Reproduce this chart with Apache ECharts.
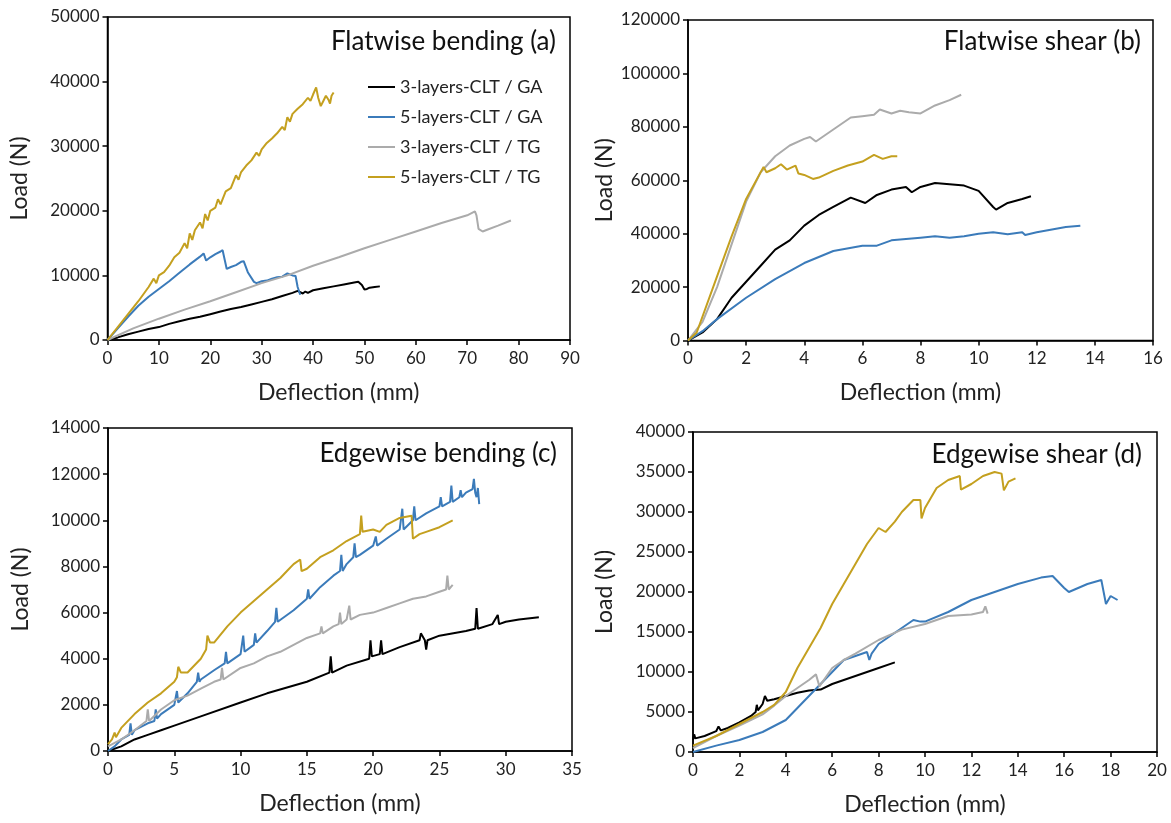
<!DOCTYPE html>
<html>
<head>
<meta charset="utf-8">
<script src="https://cdn.jsdelivr.net/npm/echarts@6/dist/echarts.min.js"></script>
<style>html,body{margin:0;padding:0;background:#fff}#c{width:1171px;height:823px}</style>
</head>
<body>
<div id="c"></div>
<script>
const seriesNames = ['3-layers-CLT / GA', '5-layers-CLT / GA', '3-layers-CLT / TG', '5-layers-CLT / TG'];
const panelTitles = ['Flatwise bending (a)', 'Flatwise shear (b)', 'Edgewise bending (c)', 'Edgewise shear (d)'];
const xMax = [90, 16, 35, 20];
const xStep = [10, 2, 5, 2];
const yMax = [50000, 120000, 14000, 40000];
const yStep = [10000, 20000, 2000, 5000];

// Panel (a) Flatwise bending
const a_GA3 = [[0,0],[2,400],[4,900],[6,1300],[8,1700],[10,2000],[12,2500],[14,2900],[16,3300],[18,3600],[20,4000],[22,4400],[24,4800],[26,5100],[28,5500],[30,5900],[32,6300],[34,6800],[36,7300],[37,7600],[38,7200],[38.5,7500],[39,7300],[40,7700],[42,8000],[44,8300],[46,8600],[48,8900],[48.8,9000],[49.5,8500],[50,7800],[50.5,7900],[51,8100],[52,8200],[53,8300]];
const a_GA5 = [[0,0],[2,1800],[4,3600],[6,5300],[8,6700],[10,7900],[12,9100],[14,10400],[16,11700],[18,12900],[18.7,13400],[19.2,12300],[20,12800],[21,13300],[22,13700],[22.4,13900],[23.2,11000],[24,11300],[25,11600],[26,12100],[26.5,12200],[27.3,10500],[28.5,9000],[29,8800],[30,9100],[31,9200],[32,9500],[33,9700],[34,9800],[35,10300],[36,10000],[36.6,9900],[37,8200],[37.5,7000]];
const a_TG3 = [[0,0],[5,1800],[10,3300],[15,4700],[20,6000],[25,7400],[30,8800],[35,10000],[40,11500],[45,12800],[50,14200],[55,15500],[60,16800],[65,18100],[70,19300],[71.5,19900],[71.8,19300],[72.2,17200],[73,16800],[74,17100],[76,17700],[78.5,18500]];
const a_TG5 = [[0,0],[2,2000],[4,4000],[6,6000],[8,8200],[9,9500],[9.5,8800],[10,10000],[11,10500],[12,11500],[13,12800],[14,13500],[15,15000],[15.5,14200],[16,16500],[16.5,15500],[17,17000],[18,18200],[18.5,17300],[19,19500],[19.5,18500],[20,20000],[21,20500],[21.5,21800],[22,21000],[23,23000],[24,23500],[25,25500],[25.5,24800],[26,26000],[27,27000],[28,27800],[29,29000],[29.5,28500],[30,29500],[31,30500],[32,31200],[33,32000],[34,33000],[34.5,32500],[35,34500],[35.5,33800],[36,35000],[37,35800],[38,36500],[39,37500],[39.5,37000],[40,38000],[40.6,39100],[41,37500],[41.5,36200],[42,37000],[42.5,37800],[43,37200],[43.3,36600],[43.6,37800],[44,38300]];

// Panel (b) Flatwise shear
const b_GA3 = [[0,0],[0.5,3000],[1,8000],[1.5,16000],[2,22000],[2.5,28000],[3,34000],[3.5,37500],[4,43000],[4.5,47000],[5,50000],[5.6,53500],[6.1,51500],[6.5,54500],[7,56500],[7.5,57500],[7.7,55500],[8,57500],[8.5,59000],[9,58500],[9.5,58000],[10,56000],[10.5,50000],[10.6,49000],[11,51500],[11.5,53000],[11.8,54000]];
const b_GA5 = [[0,0],[0.5,3500],[1,8000],[2,16000],[3,23000],[4,29000],[5,33500],[6,35500],[6.5,35500],[7,37500],[8,38500],[8.5,39000],[9,38500],[9.5,39000],[10,40000],[10.5,40500],[11,39800],[11.5,40500],[11.6,39500],[12,40500],[13,42500],[13.5,43000]];
const b_TG3 = [[0,0],[0.5,7000],[1,20000],[1.5,36000],[2,52000],[2.5,63000],[3,69000],[3.5,73000],[4,75500],[4.2,76200],[4.4,74500],[5,79000],[5.6,83500],[6,84000],[6.4,84500],[6.6,86500],[7,85000],[7.3,86000],[7.6,85500],[8,85000],[8.5,88000],[9,90000],[9.4,92000]];
const b_TG5 = [[0,0],[0.3,3000],[1,24000],[1.5,39000],[2,53000],[2.6,65000],[2.7,63000],[3,64500],[3.2,66000],[3.4,64000],[3.7,65500],[3.8,62500],[4,62000],[4.3,60500],[4.5,61000],[5,63500],[5.5,65500],[6,67000],[6.4,69500],[6.7,68000],[7,69000],[7.2,69000]];

// Panel (c) Edgewise bending
const c_GA3 = [[0,0],[1,200],[2,500],[3,700],[4,900],[5,1100],[7,1500],[10,2100],[12,2500],[15,3000],[16.7,3400],[16.8,4100],[16.9,3400],[18,3700],[19.7,4000],[19.8,4800],[19.9,4100],[20.5,4200],[20.6,4800],[20.7,4200],[22,4500],[23.5,4800],[23.6,5100],[23.9,4800],[24,4400],[24.1,4800],[25,5000],[27,5200],[27.7,5300],[27.8,6200],[27.9,5300],[29,5500],[29.4,5900],[29.5,5500],[30,5600],[31,5700],[32.5,5800]];
const c_GA5 = [[0,0],[0.5,200],[1,500],[1.6,700],[1.7,1200],[1.8,700],[2,900],[3,1200],[3.5,1300],[3.6,1800],[3.7,1400],[4,1600],[5,2000],[5.2,2600],[5.3,2100],[6,2500],[6.7,3000],[6.8,3400],[6.9,3000],[7,3100],[8,3500],[8.8,3800],[8.9,4300],[9,3800],[10,4200],[10.2,5000],[10.3,4300],[11,4600],[11.1,5100],[11.2,4700],[12,5200],[12.6,5600],[12.7,6200],[12.8,5600],[14,6100],[15,6600],[15.1,7000],[15.2,6600],[16,7100],[17,7600],[17.5,7800],[17.6,8500],[17.7,7800],[18,8100],[18.5,8400],[18.6,9000],[18.7,8400],[19,8500],[20,8900],[20.2,9300],[20.3,8900],[21,9200],[22,9600],[22.2,10500],[22.3,9600],[23,10000],[23.1,10600],[23.2,10000],[24,10300],[25,10600],[25.1,11000],[25.2,10600],[25.8,10800],[25.9,11500],[26,10800],[26.5,11000],[26.6,11300],[26.7,11000],[27,11200],[27.5,11350],[27.6,11800],[27.7,11200],[27.8,11000],[27.9,11400],[28,10700]];
const c_TG3 = [[0,200],[1,500],[2,900],[2.9,1300],[3,1800],[3.1,1300],[4,1800],[5,2200],[6,2400],[7,2700],[8,3000],[8.5,3100],[8.6,3600],[8.7,3100],[10,3600],[11,3800],[12,4100],[13,4300],[14,4600],[15,4900],[16,5100],[16.1,5400],[16.2,5100],[17,5400],[17.4,5500],[17.5,6000],[17.6,5500],[18,5700],[18.2,6300],[18.3,5700],[19,5900],[20,6000],[21,6200],[22,6400],[23,6600],[24,6700],[25,6900],[25.5,7000],[25.6,7600],[25.7,7000],[26,7200]];
const c_TG5 = [[0,300],[0.3,500],[0.5,800],[0.6,600],[1,1000],[2,1600],[3,2100],[4,2500],[5,3000],[5.2,3200],[5.3,3650],[5.5,3400],[6,3400],[7,4000],[7.4,4400],[7.5,5000],[7.7,4700],[8,4700],[9,5400],[10,6000],[11,6500],[12,7000],[13,7500],[13.5,7800],[14,8100],[14.5,8300],[14.6,7800],[15,7900],[16,8400],[17,8700],[18,9100],[19,9400],[19.1,10200],[19.2,9500],[20,9600],[20.5,9500],[21,9800],[22,10100],[22.9,10200],[23,9200],[23.5,9400],[24,9500],[25,9700],[26,10000]];

// Panel (d) Edgewise shear
const d_GA3 = [[0,1500],[0.05,2200],[0.1,1700],[0.5,2000],[1,2600],[1.1,3200],[1.2,2700],[1.5,3000],[2,3700],[2.5,4500],[2.7,5000],[2.75,5900],[2.8,5200],[3,6000],[3.1,7000],[3.2,6400],[3.5,6600],[4,7000],[4.5,7400],[5,7700],[5.5,7800],[6,8500],[7,9500],[8,10500],[8.7,11200]];
const d_GA5 = [[0,0],[1,800],[2,1500],[3,2500],[4,4000],[4.5,5500],[5,7000],[5.5,8500],[6,10000],[6.5,11500],[7,12000],[7.5,12500],[7.6,11500],[7.7,12300],[8,13500],[9,15500],[9.5,16500],[9.8,16300],[10,16300],[11,17500],[12,19000],[13,20000],[14,21000],[15,21800],[15.5,22000],[16,20500],[16.2,20000],[17,21000],[17.6,21500],[17.7,20000],[17.8,18500],[18,19500],[18.3,19000]];
const d_TG3 = [[0,500],[1,2000],[2,3300],[3,4700],[3.5,5800],[4,7000],[4.5,8000],[5,9000],[5.3,9700],[5.45,8200],[6,10500],[6.5,11500],[7,12300],[8,14000],[9,15300],[10,16000],[11,17000],[12,17200],[12.5,17500],[12.6,18200],[12.7,17300]];
const d_TG5 = [[0,800],[1,2000],[2,3500],[3,5000],[3.5,5900],[4,7500],[4.5,10500],[5,13000],[5.5,15500],[6,18500],[6.5,21000],[7,23500],[7.5,26000],[8,28000],[8.3,27500],[8.7,28800],[9,30000],[9.5,31500],[9.8,31500],[9.85,29200],[10,30500],[10.5,33000],[11,34000],[11.5,34500],[11.55,32800],[12,33500],[12.5,34500],[13,35000],[13.3,34800],[13.4,32700],[13.6,33800],[13.9,34200]];

const panelData = [
  [a_GA3, a_GA5, a_TG3, a_TG5],
  [b_GA3, b_GA5, b_TG3, b_TG5],
  [c_GA3, c_GA5, c_TG3, c_TG5],
  [d_GA3, d_GA5, d_TG3, d_TG5]
];
const colors = ['#000000', '#3B7BBA', '#ABABAB', '#C4A01F'];

const FONT = 'Lato, "Open Sans", sans-serif';
const grids = [
  {left: 107.5, top: 17, width: 462.5, height: 323},
  {left: 688, top: 20, width: 465, height: 320.5},
  {left: 108, top: 428, width: 464, height: 323},
  {left: 693, top: 432, width: 464, height: 320}
];
const yNameGap = [76, 72, 76, 77];
const titlePos = [[556, 42], [1141, 42], [557, 454], [1142, 455]];

const chart = echarts.init(document.getElementById('c'), null, {renderer: 'canvas'});
const axisCommon = {
  axisLine: {show: true, onZero: false, lineStyle: {color: '#000', width: 1.5}},
  axisTick: {show: true, inside: false, length: 5, lineStyle: {color: '#000', width: 1.5}},
  splitLine: {show: false},
  axisLabel: {color: '#222', fontSize: 17, fontFamily: FONT, formatter: v => String(v)},
  nameTextStyle: {color: '#222', fontSize: 23, fontFamily: FONT}
};
const option = {
  animation: false,
  backgroundColor: '#fff',
  grid: grids.map(g => Object.assign({show: true, borderColor: '#000', borderWidth: 1.5, backgroundColor: 'transparent', containLabel: false}, g)),
  xAxis: grids.map((g, i) => Object.assign({}, axisCommon, {
    type: 'value', gridIndex: i, min: 0, max: xMax[i], interval: xStep[i],
    name: 'Deflection (mm)', nameLocation: 'middle', nameGap: 41,
    axisLabel: Object.assign({}, axisCommon.axisLabel, {margin: 10})
  })),
  yAxis: grids.map((g, i) => Object.assign({}, axisCommon, {
    type: 'value', gridIndex: i, min: 0, max: yMax[i], interval: yStep[i],
    name: 'Load (N)', nameLocation: 'middle', nameGap: yNameGap[i], nameRotate: 90,
    axisLabel: Object.assign({}, axisCommon.axisLabel, {margin: 8})
  })),
  legend: {
    data: seriesNames,
    orient: 'vertical', left: 368, top: 78, padding: 0,
    itemWidth: 27, itemHeight: 14, itemGap: 12,
    textStyle: {color: '#222', fontSize: 18, fontFamily: FONT},
    icon: 'path://M0,6 L27,6 L27,8 L0,8 Z'
  },
  graphic: panelTitles.map((t, i) => ({
    type: 'text', x: titlePos[i][0], y: titlePos[i][1],
    style: {text: t, fill: '#111', font: '26px ' + FONT, textAlign: 'right', textVerticalAlign: 'middle'}
  })),
  series: []
};
panelData.forEach((arr, p) => {
  arr.forEach((d, s) => {
    option.series.push({
      type: 'line', name: seriesNames[s], xAxisIndex: p, yAxisIndex: p,
      data: d, showSymbol: false, symbol: 'none',
      lineStyle: {color: colors[s], width: 2}, itemStyle: {color: colors[s]},
      z: 2 + s
    });
  });
});
chart.setOption(option);
</script>
</body>
</html>
